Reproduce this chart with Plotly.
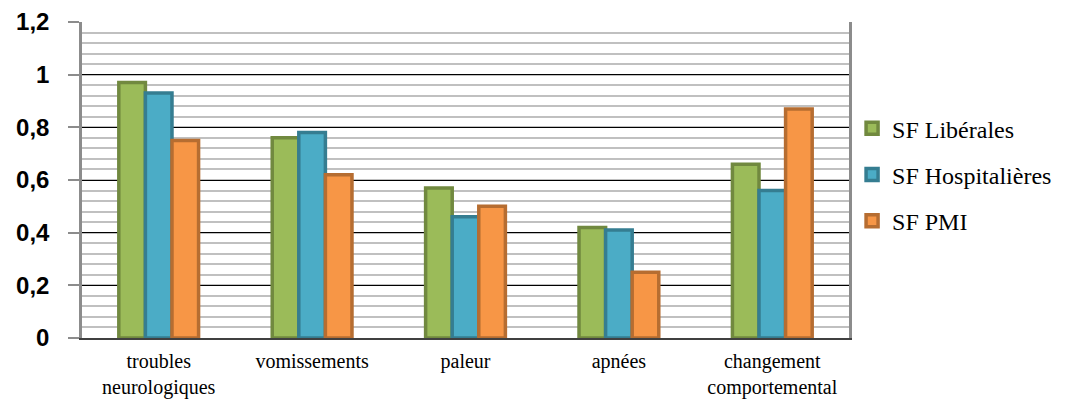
import plotly.graph_objects as go

categories = ["troubles<br>neurologiques", "vomissements", "paleur", "apnées", "changement<br>comportemental"]
series_names = ["SF Libérales", "SF Hospitalières", "SF PMI"]
liberales = [0.97, 0.76, 0.57, 0.42, 0.66]
hospitalieres = [0.93, 0.78, 0.46, 0.41, 0.56]
pmi = [0.75, 0.62, 0.50, 0.25, 0.87]
y_ticks = [0, 0.2, 0.4, 0.6, 0.8, 1.0, 1.2]
y_tick_labels = ["0", "0,2", "0,4", "0,6", "0,8", "1", "1,2"]

fills = ["#9BBB59", "#4BACC6", "#F79646"]
borders = ["#71893F", "#357D91", "#B66D31"]

fig = go.Figure()
for i, (name, vals) in enumerate(zip(series_names, [liberales, hospitalieres, pmi])):
    fig.add_trace(go.Bar(
        x=categories, y=vals, name=name, legendgroup=name,
        marker=dict(color=fills[i], line=dict(color=borders[i], width=3.5)),
    ))

fig.update_layout(
    width=1070, height=400,
    margin=dict(l=74, r=229, t=14, b=70),
    plot_bgcolor="white", paper_bgcolor="white",
    barmode="group", bargap=0.48, bargroupgap=0,
    showlegend=True,
    legend=dict(x=1.004, xanchor="left", y=0.517, yanchor="middle",
                bgcolor="rgba(0,0,0,0)",
                font=dict(family="Liberation Serif", size=24, color="black"),
                tracegroupgap=12, itemwidth=30),
    xaxis=dict(showline=True, linecolor="#404040", linewidth=2, automargin=False,
               tickfont=dict(family="Liberation Serif", size=20, color="black"),
               ticks="", showgrid=False, ticklabelstandoff=4),
    yaxis=dict(range=[0, 1.2], tickvals=y_ticks, ticktext=y_tick_labels, automargin=False,
               tickfont=dict(family="Liberation Sans", size=24, color="black", weight="bold"),
               showline=True, linecolor="#8C8C8C", linewidth=2.5, mirror=True,
               ticks="outside", ticklen=11, tickwidth=2, tickcolor="#8C8C8C",
               ticklabelstandoff=14, ticklabeloverflow="allow",
               showgrid=True, gridcolor="black", gridwidth=1,
               zeroline=False,
               minor=dict(dtick=0.04, tick0=0, showgrid=True, gridcolor="#C0C0C0", gridwidth=1.6, ticks="")),
    yaxis2=dict(range=[0, 1.2], overlaying="y", side="left", tickvals=[0.4, 0.8, 1.2],
                automargin=False,
                showticklabels=False, showgrid=True, gridcolor="#7F7F7F", gridwidth=2,
                zeroline=False, showline=False),
)

fig.write_html("out.html")
